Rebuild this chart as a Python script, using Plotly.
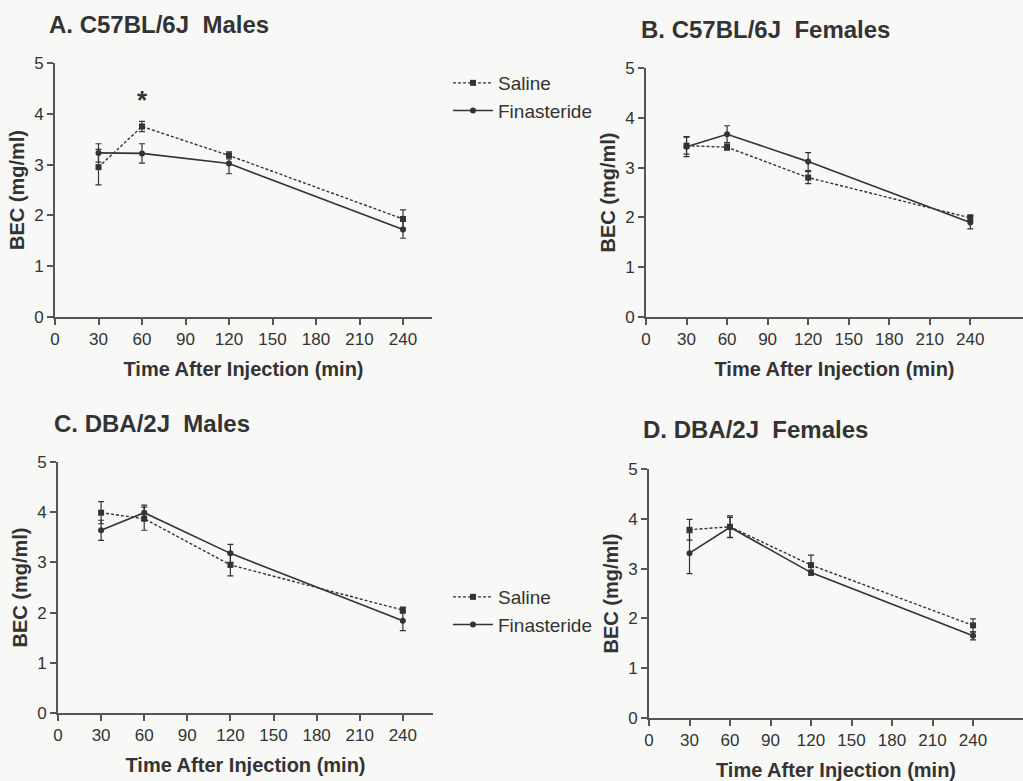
import plotly.graph_objects as go

W, H = 1023, 781

time_min = [30, 60, 120, 240]

# Panel A: C57BL/6J Males
a_saline = [2.95, 3.75, 3.18, 1.93]
a_saline_err = [0.35, 0.10, 0.07, 0.18]
a_fin = [3.23, 3.22, 3.02, 1.72]
a_fin_err = [0.18, 0.19, 0.20, 0.17]

# Panel B: C57BL/6J Females
b_saline = [3.44, 3.41, 2.80, 1.99]
b_saline_err = [0.17, 0.06, 0.12, 0.06]
b_fin = [3.42, 3.67, 3.12, 1.90]
b_fin_err = [0.20, 0.17, 0.18, 0.13]

# Panel C: DBA/2J Males
c_saline = [3.99, 3.87, 2.95, 2.05]
c_saline_err = [0.22, 0.23, 0.22, 0.06]
c_fin = [3.64, 3.99, 3.18, 1.84]
c_fin_err = [0.20, 0.15, 0.18, 0.20]

# Panel D: DBA/2J Females
d_saline = [3.78, 3.84, 3.07, 1.86]
d_saline_err = [0.21, 0.22, 0.20, 0.13]
d_fin = [3.31, 3.83, 2.92, 1.65]
d_fin_err = [0.41, 0.20, 0.05, 0.08]

panel_titles = ["A. C57BL/6J  Males", "B. C57BL/6J  Females",
                "C. DBA/2J  Males", "D. DBA/2J  Females"]
x_tickvals = [0, 30, 60, 90, 120, 150, 180, 210, 240]
y_tickvals = [0, 1, 2, 3, 4, 5]
x_title = "Time After Injection (min)"
y_title = "BEC (mg/ml)"
series_names = ["Saline", "Finasteride"]

INK = "#333333"
AXIS = "#555555"
BG = "#f8f8f6"
FONT = "Arial, Liberation Sans, Helvetica, sans-serif"

def fx(p):
    return p / W

def fy(p):
    return 1 - p / H

# panel geometry in pixels: (x_left, x_right, y_top(at 5), y_bottom(at 0), xmax)
geom = [
    (55, 432, 63, 317, 260),
    (646, 1023, 68, 317, 279),
    (58, 433, 462, 713, 261),
    (649, 1023, 469, 718, 277),
]

data = [
    (a_saline, a_saline_err, a_fin, a_fin_err),
    (b_saline, b_saline_err, b_fin, b_fin_err),
    (c_saline, c_saline_err, c_fin, c_fin_err),
    (d_saline, d_saline_err, d_fin, d_fin_err),
]

fig = go.Figure()

for i, (sal, sal_e, fin, fin_e) in enumerate(data):
    sfx = "" if i == 0 else str(i + 1)
    xa, ya = "x" + sfx, "y" + sfx
    leg = "legend" if i == 0 else ("legend2" if i == 2 else None)
    show = i in (0, 2)
    kw_s = dict(legend=leg) if leg else {}
    fig.add_trace(go.Scatter(
        x=time_min, y=sal, name=series_names[0], mode="lines+markers",
        line=dict(color=INK, width=1.4, dash="3px,2px"),
        marker=dict(symbol="square", size=6, color=INK),
        error_y=dict(type="data", array=sal_e, color=INK, thickness=1.2, width=3),
        xaxis=xa, yaxis=ya, showlegend=show, legendgroup="s" + str(i), **kw_s))
    fig.add_trace(go.Scatter(
        x=time_min, y=fin, name=series_names[1], mode="lines+markers",
        line=dict(color=INK, width=1.6),
        marker=dict(symbol="circle", size=6, color=INK),
        error_y=dict(type="data", array=fin_e, color=INK, thickness=1.2, width=3),
        xaxis=xa, yaxis=ya, showlegend=show, legendgroup="f" + str(i), **kw_s))

layout = dict(
    width=W, height=H,
    margin=dict(l=0, r=0, t=0, b=0, autoexpand=False),
    paper_bgcolor=BG, plot_bgcolor=BG,
    font=dict(family=FONT, color=INK, size=17),
    legend=dict(x=fx(448), y=fy(64), xanchor="left", yanchor="top",
                bgcolor="rgba(0,0,0,0)", font=dict(size=19, color=INK),
                tracegroupgap=0, itemwidth=40),
    legend2=dict(x=fx(448), y=fy(578), xanchor="left", yanchor="top",
                 bgcolor="rgba(0,0,0,0)", font=dict(size=19, color=INK),
                 tracegroupgap=0, itemwidth=40),
    annotations=[],
)

for i, (xl, xr, yt, yb, xmax) in enumerate(geom):
    sfx = "" if i == 0 else str(i + 1)
    anchor_x = "y" + sfx
    anchor_y = "x" + sfx
    layout["xaxis" + sfx] = dict(
        domain=[fx(xl), fx(xr)], range=[0, xmax], anchor=anchor_x,
        automargin=False,
        tickvals=x_tickvals, ticks="outside", ticklen=6, tickwidth=1.5,
        tickcolor=AXIS, showline=True, linecolor=AXIS, linewidth=1.8,
        showgrid=False, zeroline=False, tickfont=dict(size=17, color=INK),
        title=dict(text="<b>" + x_title + "</b>", font=dict(size=20, color=INK), standoff=14),
    )
    layout["yaxis" + sfx] = dict(
        domain=[fy(yb), fy(yt)], range=[0, 5], anchor=anchor_y,
        automargin=False,
        tickvals=y_tickvals, ticks="outside", ticklen=6, tickwidth=1.5,
        tickcolor=AXIS, showline=True, linecolor=AXIS, linewidth=1.8,
        showgrid=False, zeroline=False, tickfont=dict(size=17, color=INK),
        title=dict(text="<b>" + y_title + "</b>", font=dict(size=20, color=INK), standoff=4),
    )

title_pos = [(47, 24), (639, 30), (52, 423), (641, 430)]
for t, (px, py) in zip(panel_titles, title_pos):
    layout["annotations"].append(dict(
        text="<b>" + t + "</b>", x=fx(px), y=fy(py), xref="paper", yref="paper",
        xanchor="left", yanchor="middle", showarrow=False,
        font=dict(size=24, color=INK)))

# significance marker in panel A
layout["annotations"].append(dict(
    text="<b>*</b>", x=60, y=4.27, xref="x", yref="y", showarrow=False,
    font=dict(size=26, color=INK)))

fig.update_layout(**layout)
fig.write_html("out.html")
